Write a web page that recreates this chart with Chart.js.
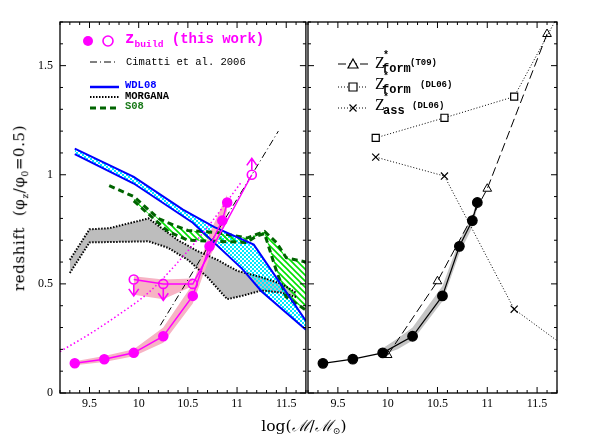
<!DOCTYPE html>
<html>
<head>
<meta charset="utf-8">
<script src="https://cdn.jsdelivr.net/npm/chart.js@4.4.1/dist/chart.umd.min.js"></script>
<style>
  body { margin: 0; background: #fff; }
  #wrap { position: relative; width: 592px; height: 443px; overflow: hidden; }
  canvas { position: absolute; top: 0; }
  #left { left: 0; }
  #right { left: 300px; }
  .t { position: absolute; white-space: nowrap; line-height: 1; transform: translateY(-50%); }
  .mono { font-family: "Liberation Mono", monospace; font-weight: bold; }
  .serif { font-family: "Liberation Serif", serif; }
  sub.s { font-size: 0.6em; vertical-align: -0.4em; }
  #ytitle { position: absolute; left: 20px; top: 208px; transform: translate(-50%, -50%) rotate(-90deg);
            font: 15px "DejaVu Serif", serif; white-space: nowrap; letter-spacing: 0.6px; }
  #xtitle { position: absolute; left: 304px; top: 425px; transform: translate(-50%, -50%);
            font: 15.5px "DejaVu Serif", serif; white-space: nowrap; }
</style>
</head>
<body>
<div id="wrap">
  <canvas id="left" width="312" height="443"></canvas>
  <canvas id="right" width="292" height="443"></canvas>

  <div class="t mono" style="left:125px; top:40px; font-size:16px; color:#ff00ff;">z<sub class="s">build</sub><span style="font-size:14px;"> (this work)</span></div>
  <div class="t mono" style="left:126px; top:62px; font-size:10.5px; font-weight:normal; color:#000;">Cimatti et al. 2006</div>
  <div class="t mono" style="left:125px; top:85px; font-size:10.5px; color:#0000ff;">WDL08</div>
  <div class="t mono" style="left:125px; top:96px; font-size:10.5px; color:#000;">MORGANA</div>
  <div class="t mono" style="left:125px; top:106px; font-size:10.5px; color:#1a7a1a;">S08</div>

  <div class="t serif" style="left:375px; top:63px; font-size:16px;">Z</div>
  <div class="t mono" style="left:383px; top:56px; font-size:10px;">*</div>
  <div class="t mono" style="left:382px; top:69px; font-size:12px;">form</div>
  <div class="t mono" style="left:410px; top:63px; font-size:9px;">(T09)</div>

  <div class="t serif" style="left:375px; top:84px; font-size:16px;">Z</div>
  <div class="t mono" style="left:383px; top:77px; font-size:10px;">*</div>
  <div class="t mono" style="left:382px; top:90px; font-size:12px;">form</div>
  <div class="t mono" style="left:420px; top:85px; font-size:9px;">(DL06)</div>

  <div class="t serif" style="left:375px; top:105px; font-size:16px;">Z</div>
  <div class="t mono" style="left:383px; top:98px; font-size:10px;">*</div>
  <div class="t mono" style="left:383px; top:111px; font-size:12px;">ass</div>
  <div class="t mono" style="left:412px; top:106px; font-size:9px;">(DL06)</div>

  <div id="ytitle">redshift&nbsp;&nbsp;(φ<sub class="s">z</sub>/φ<sub class="s">0</sub>=0.5)</div>
  <div id="xtitle">log(<i>ℳ</i>/<i>ℳ</i><sub class="s">⊙</sub>)</div>
</div>

<script>
// axis ranges and labelled ticks
const xMin = 9.2, xMax = 11.7;
const yMin = 0, yMax = 1.7;
const xTicks = [9.5, 10, 10.5, 11, 11.5];
const yTicks = [0, 0.5, 1, 1.5];

// z_build (this work), filled points and their error band
const massBuild = [9.35, 9.65, 9.95, 10.25, 10.55, 10.72, 10.85, 10.9];
const zBuild = [0.136, 0.155, 0.184, 0.26, 0.445, 0.672, 0.79, 0.873];
const zBuildHi = [0.146, 0.17, 0.2, 0.3, 0.5, 0.73, 0.86, 0.91];
const zBuildLo = [0.127, 0.142, 0.168, 0.23, 0.41, 0.62, 0.74, 0.84];

// z_build limits, open points
const massLim = [9.95, 10.25, 10.55, 11.15];
const zLim = [0.52, 0.50, 0.50, 1.0];
const massLimBand = [9.95, 10.25, 10.55];
const zLimHi = [0.535, 0.52, 0.525];
const zLimLo = [0.45, 0.43, 0.49];
const downLimMass = [9.95, 10.25];
const downLimZ = [0.52, 0.50];
const upLimMass = [11.15];
const upLimZ = [1.0];

// magenta dotted curve
const massDotted = [9.2, 9.5, 9.8, 10.1, 10.4, 10.7, 11.05];
const zDotted = [0.19, 0.27, 0.36, 0.46, 0.6, 0.76, 0.97];

// Cimatti et al. 2006
const massCimatti = [10.22, 11.42];
const zCimatti = [0.31, 1.2];

// WDL08
const massWdlHi = [9.35, 9.95, 10.45, 10.77, 11.17, 11.7];
const zWdlHi = [1.12, 0.99, 0.84, 0.76, 0.68, 0.33];
const massWdlLo = [9.35, 9.95, 10.55, 11.05, 11.25, 11.7];
const zWdlLo = [1.095, 0.96, 0.78, 0.57, 0.465, 0.29];

// MORGANA
const massMorHi = [9.3, 9.5, 9.7, 10.1, 10.4, 10.6, 10.8, 11.0, 11.25, 11.45, 11.6];
const zMorHi = [0.61, 0.75, 0.755, 0.80, 0.70, 0.65, 0.61, 0.56, 0.53, 0.50, 0.46];
const massMorLo = [9.3, 9.5, 10.1, 10.3, 10.5, 10.7, 10.9, 11.05, 11.25, 11.45, 11.6];
const zMorLo = [0.55, 0.69, 0.695, 0.665, 0.61, 0.53, 0.43, 0.445, 0.47, 0.46, 0.44];

// S08
const massS08Hi = [9.7, 9.95, 10.2, 10.35, 10.5, 10.8, 11.1, 11.28, 11.4, 11.5, 11.7];
const zS08Hi = [0.95, 0.90, 0.80, 0.77, 0.745, 0.735, 0.71, 0.74, 0.69, 0.62, 0.60];
const massS08Lo = [9.95, 10.1, 10.3, 10.5, 11.1, 11.2, 11.28, 11.4, 11.5, 11.7];
const zS08Lo = [0.88, 0.82, 0.74, 0.70, 0.69, 0.72, 0.73, 0.56, 0.44, 0.38];

// right panel: same z_build points with band
const massBand = [9.95, 10.1, 10.25, 10.55, 10.72, 10.85, 10.9];
const zBandHi = [0.205, 0.25, 0.3, 0.49, 0.70, 0.81, 0.89];
const zBandLo = [0.175, 0.2, 0.24, 0.42, 0.64, 0.76, 0.85];

// z*_form (T09)
const massT09 = [10.0, 10.5, 11.0, 11.6];
const zT09 = [0.174, 0.512, 0.936, 1.645];
// z*_form (DL06)
const massDLform = [9.88, 10.57, 11.27, 11.7];
const zDLform = [1.169, 1.261, 1.358, 1.72];
// z*_ass (DL06)
const massDLass = [9.88, 10.57, 11.27, 11.7];
const zDLass = [1.081, 0.994, 0.384, 0.24];

const MAGENTA = '#ff00ff';
const tickFont = { family: 'Liberation Serif', size: 12 };

const pts = (xs, ys) => xs.map((x, i) => ({ x: x, y: ys[i] }));

function makePattern(w, h, draw) {
    const c = document.createElement('canvas');
    c.width = w;
    c.height = h;
    const g = c.getContext('2d');
    draw(g);
    return g.createPattern(c, 'repeat');
}

const cyanDots = makePattern(4, 4, g => {
    g.fillStyle = '#00e8ff';
    g.fillRect(0, 0, 2, 2);
    g.fillRect(2, 2, 2, 2);
});
const greenStripes = makePattern(6, 6, g => {
    g.strokeStyle = '#00e000';
    g.lineWidth = 1.6;
    g.beginPath();
    g.moveTo(-1, -1); g.lineTo(7, 7);
    g.moveTo(-1, 5); g.lineTo(1, 7);
    g.moveTo(5, -1); g.lineTo(7, 1);
    g.stroke();
});

// minor/major tick positions for the inner frame ticks
const minorX = [];
const minorY = [];
for (let i = 92; i <= 117; i++) minorX.push(i / 10);
for (let i = 0; i <= 17; i++) minorY.push(i / 10);
const isMajor = v => Math.abs(v * 2 - Math.round(v * 2)) < 1e-6;

const framePlugin = {
    id: 'frame',
    afterDatasetsDraw(chart) {
        const {ctx, chartArea: a, scales} = chart;
        ctx.save();
        ctx.strokeStyle = '#000';
        ctx.lineWidth = 1;
        ctx.beginPath();
        minorX.forEach(v => {
            const px = scales.x.getPixelForValue(v);
            const len = isMajor(v) ? 6 : 3;
            ctx.moveTo(px, a.bottom); ctx.lineTo(px, a.bottom - len);
            ctx.moveTo(px, a.top); ctx.lineTo(px, a.top + len);
        });
        minorY.forEach(v => {
            const py = scales.y.getPixelForValue(v);
            const len = isMajor(v) ? 6 : 3;
            ctx.moveTo(a.left, py); ctx.lineTo(a.left + len, py);
            ctx.moveTo(a.right, py); ctx.lineTo(a.right - len, py);
        });
        ctx.stroke();
        ctx.lineWidth = 1.3;
        ctx.strokeRect(a.left, a.top, a.right - a.left, a.bottom - a.top);
        ctx.restore();
    }
};

function sample(c, x0, x1, y, color, width, dash) {
    c.strokeStyle = color;
    c.lineWidth = width;
    c.setLineDash(dash);
    c.beginPath();
    c.moveTo(x0, y);
    c.lineTo(x1, y);
    c.stroke();
    c.setLineDash([]);
}

const limitArrows = {
    id: 'limitArrows',
    afterDatasetsDraw(chart) {
        const {ctx, scales: {x, y}} = chart;
        const draw = (mx, mz, dir) => {
            const px = x.getPixelForValue(mx);
            const py0 = y.getPixelForValue(mz) + dir * 5;
            const py1 = y.getPixelForValue(mz + (dir > 0 ? -0.075 : 0.075));
            ctx.beginPath();
            ctx.moveTo(px, py0); ctx.lineTo(px, py1);
            ctx.moveTo(px - 5, py1 - dir * 7); ctx.lineTo(px, py1); ctx.lineTo(px + 5, py1 - dir * 7);
            ctx.stroke();
        };
        ctx.save();
        ctx.strokeStyle = MAGENTA;
        ctx.lineWidth = 1.6;
        downLimMass.forEach((m, i) => draw(m, downLimZ[i], 1));
        upLimMass.forEach((m, i) => draw(m, upLimZ[i], -1));
        ctx.restore();
    }
};

const leftLegend = {
    id: 'leftLegend',
    afterDraw(chart) {
        const c = chart.ctx;
        c.save();
        c.fillStyle = MAGENTA;
        c.beginPath(); c.arc(88, 41, 5, 0, 2 * Math.PI); c.fill();
        c.strokeStyle = MAGENTA;
        c.lineWidth = 1.6;
        c.beginPath(); c.arc(108, 41, 5, 0, 2 * Math.PI); c.stroke();
        sample(c, 90, 118, 62, '#000', 1, [7, 3, 1, 3]);
        sample(c, 90, 119, 87, '#0000ff', 2.5, []);
        sample(c, 90, 119, 97, '#000', 2, [1.5, 1.5]);
        sample(c, 90, 119, 108, '#006400', 3, [6, 4]);
        c.restore();
    }
};

const rightLegend = {
    id: 'rightLegend',
    afterDraw(chart) {
        const c = chart.ctx;
        c.save();
        sample(c, 38, 68, 64, '#000', 1, [8, 3]);
        sample(c, 38, 68, 87, '#000', 1, [1, 2]);
        sample(c, 38, 68, 108, '#000', 1, [1, 2]);
        c.fillStyle = '#fff';
        c.strokeStyle = '#000';
        c.lineWidth = 1.2;
        c.beginPath(); c.moveTo(53, 59); c.lineTo(58, 68); c.lineTo(48, 68); c.closePath(); c.fill(); c.stroke();
        c.beginPath(); c.rect(49, 83, 8, 8); c.fill(); c.stroke();
        c.beginPath(); c.moveTo(49.5, 104.5); c.lineTo(56.5, 111.5); c.moveTo(56.5, 104.5); c.lineTo(49.5, 111.5); c.stroke();
        c.restore();
    }
};

function panelOptions(showYLabels, yWidth, padRight) {
    return {
        responsive: false,
        animation: false,
        layout: {padding: {left: 0, right: padRight, top: 22, bottom: 0}},
        plugins: {legend: {display: false}, tooltip: {enabled: false}},
        elements: {line: {tension: 0}},
        scales: {
            x: {
                type: 'linear', min: xMin, max: xMax,
                grid: {display: false, drawTicks: false}, border: {display: false},
                afterBuildTicks: s => { s.ticks = xTicks.map(v => ({value: v})); },
                afterFit: s => { s.height = 50; s.paddingLeft = 0; s.paddingRight = 0; },
                ticks: {font: tickFont, color: '#000', padding: 4, maxRotation: 0, autoSkip: false, callback: v => String(v)}
            },
            y: {
                type: 'linear', min: yMin, max: yMax,
                grid: {display: false, drawTicks: false}, border: {display: false},
                afterBuildTicks: s => { s.ticks = yTicks.map(v => ({value: v})); },
                afterFit: s => { s.width = yWidth; s.paddingTop = 0; s.paddingBottom = 0; },
                ticks: {display: showYLabels, font: tickFont, color: '#000', padding: 7, callback: v => String(v)}
            }
        }
    };
}

function band(xsHi, ysHi, xsLo, ysLo, fillStyle, order) {
    return [
        {data: pts(xsHi, ysHi), borderWidth: 0, borderColor: 'rgba(0,0,0,0)', pointRadius: 0, fill: '+1', backgroundColor: fillStyle, order: order},
        {data: pts(xsLo, ysLo), borderWidth: 0, borderColor: 'rgba(0,0,0,0)', pointRadius: 0, fill: false, order: order}
    ];
}

function line(xs, ys, color, width, dash, order, extra) {
    return Object.assign({
        data: pts(xs, ys), borderColor: color, borderWidth: width, borderDash: dash,
        pointRadius: 0, fill: false, order: order
    }, extra || {});
}

new Chart(document.getElementById('left'), {
    type: 'line',
    data: {
        datasets: [
            line(massBuild, zBuild, MAGENTA, 1.5, [], 1, {
                pointRadius: 4.5, pointBackgroundColor: MAGENTA, pointBorderColor: MAGENTA
            }),
            line(massLim, zLim, MAGENTA, 1.5, [], 1, {
                pointRadius: 4.5, pointBackgroundColor: 'rgba(0,0,0,0)', pointBorderColor: MAGENTA, pointBorderWidth: 1.6
            }),
            line(massCimatti, zCimatti, '#000', 1, [7, 3, 1, 3], 3),
            line(massDotted, zDotted, MAGENTA, 1.5, [1.5, 2.5], 3, {tension: 0.4, cubicInterpolationMode: 'monotone'}),
            line(massWdlHi, zWdlHi, '#0000ff', 2, [], 4),
            line(massWdlLo, zWdlLo, '#0000ff', 2, [], 4),
            line(massS08Hi, zS08Hi, '#006400', 3, [6, 4], 4),
            line(massS08Lo, zS08Lo, '#006400', 3, [6, 4], 4),
            line(massMorHi, zMorHi, '#000', 2, [1.5, 1.5], 5),
            line(massMorLo, zMorLo, '#000', 2, [1.5, 1.5], 5),
            ...band(massBuild, zBuildHi, massBuild, zBuildLo, '#f7b3c4', 6),
            ...band(massLimBand, zLimHi, massLimBand, zLimLo, '#f7b3c4', 6),
            ...band(massS08Hi.slice(1), zS08Hi.slice(1), massS08Lo, zS08Lo, greenStripes, 7),
            ...band(massWdlHi, zWdlHi, massWdlLo, zWdlLo, cyanDots, 8),
            ...band(massMorHi, zMorHi, massMorLo, zMorLo, '#bdbdbd', 9)
        ]
    },
    options: panelOptions(true, 60, 2),
    plugins: [framePlugin, limitArrows, leftLegend]
});

new Chart(document.getElementById('right'), {
    type: 'line',
    data: {
        datasets: [
            line(massBuild, zBuild, '#000', 1.2, [], 1, {
                pointRadius: 4.8, pointBackgroundColor: '#000', pointBorderColor: '#000'
            }),
            line(massT09, zT09, '#000', 1, [9, 4], 2, {
                pointRadius: 5, pointStyle: 'triangle', pointBackgroundColor: 'rgba(0,0,0,0)', pointBorderColor: '#000', pointBorderWidth: 1
            }),
            line(massDLform, zDLform, '#000', 1, [1, 2], 2, {
                pointRadius: [5, 5, 5, 0], pointStyle: 'rect', pointBackgroundColor: '#fff', pointBorderColor: '#000', pointBorderWidth: 1.2
            }),
            line(massDLass, zDLass, '#000', 1, [1, 2], 2, {
                pointRadius: [5, 5, 5, 0], pointStyle: 'crossRot', pointBorderColor: '#000', pointBorderWidth: 1.2
            }),
            ...band(massBand, zBandHi, massBand, zBandLo, '#c4c4c4', 6)
        ]
    },
    options: panelOptions(false, 8, 35),
    plugins: [framePlugin, rightLegend]
});
</script>
</body>
</html>
